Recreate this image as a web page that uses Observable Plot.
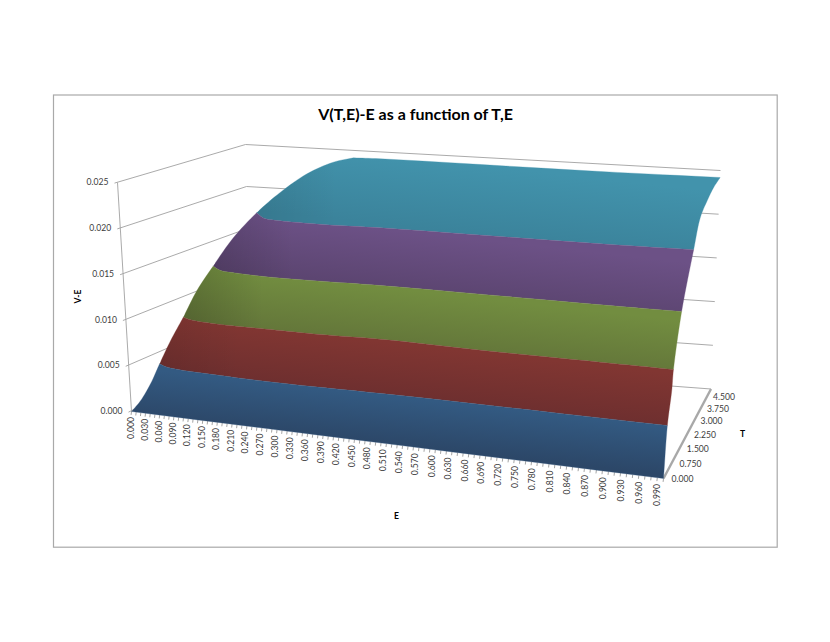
<!doctype html>
<html><head><meta charset="utf-8">
<script src="https://cdn.jsdelivr.net/npm/d3@7"></script>
<script src="https://cdn.jsdelivr.net/npm/@observablehq/plot@0.6"></script>
<style>html,body{margin:0;padding:0;background:#fff}svg{display:block}</style>
</head><body><div id="chart"></div>
<script>
// Tick labels
const eTicks=[0,.03,.06,.09,.12,.15,.18,.21,.24,.27,.30,.33,.36,.39,.42,.45,.48,.51,.54,.57,.60,.63,.66,.69,.72,.75,.78,.81,.84,.87,.90,.93,.96,.99];
const tTicks=[0,.75,1.5,2.25,3,3.75,4.5];
const vTicks=[0,.005,.01,.015,.02,.025];
const bandLevels=[0,.005,.01,.015,.02,.0242];

// Fold (left silhouette) of the surface: E, T, V
const foldE=[0,.004,.025,.045,.064,.085,.094,.116,.127,.157,.177,.191,.222,.254];
const foldT=[0,.247,.295,.320,.432,.562,.926,1.166,1.751,2.138,2.738,3.597,4.158,4.438];
const foldV=[0,.0008,.00275,.005,.0075,.01,.0125,.015,.0175,.02,.02175,.023,.023875,.0242];

// Right edge of the surface at E = 0.990: T, V
const edgeT=[0,.243,.553,.661,1.242,2.155,2.68,3.28,3.88,4.5];
const edgeV=[0,.005,.008,.01,.015,.02,.02266,.02352,.02406,.0242];

// Iso-value lines: E and T at which V reaches each level
const iso0E=[0,.99],                                   iso0T=[0,0];
const iso1E=[.045,.070,.187,.320,.532,.99],            iso1T=[.320,.177,.073,.061,.159,.243];
const iso2E=[.085,.107,.174,.273,.369,.479,.668,.870,.99], iso2T=[.562,.453,.375,.413,.448,.558,.566,.628,.661];
const iso3E=[.116,.146,.184,.254,.350,.462,.855,.99],  iso3T=[1.166,.925,.860,.825,.899,1.012,1.176,1.242];
const iso4E=[.157,.193,.225,.287,.339,.428,.832,.99],  iso4T=[2.138,1.766,1.684,1.684,1.711,1.823,2.033,2.155];
const iso5E=[.254,.312,.768,.99],                      iso5T=[4.438,4.489,4.450,4.5];
const isoE=[iso0E,iso1E,iso2E,iso3E,iso4E,iso5E], isoT=[iso0T,iso1T,iso2T,iso3T,iso4T,iso5T];

// Band colours (top of band, bottom of band)
const bandTop=["#335a82","#813632","#728d40","#6c5186","#4293ac"];
const bandBot=["#2c4768","#6e2f2f","#64773a","#5c4571","#3b839b"];
const shadeAlpha=[0,.08,.16,.14,.08];

// Oblique view: eight corners of the box on the page
const cA=[131,411],cB=[663,478],cC=[710.5,388.5],cD=[250,354],cA1=[117,182],cB1=[667,240],cC1=[720,170],cD1=[245,144];
const Emax=.99,Tmax=4.5,Vmax=.025;
const mix=(p,q,s)=>[p[0]+(q[0]-p[0])*s,p[1]+(q[1]-p[1])*s];
const warp=(s,k)=>s/(s+k*(1-s));
const eFrac=E=>warp(E/Emax,1.155), tFrac=T=>warp(T/Tmax,.85);
function view(E,T,V){
  const e=eFrac(E),t=tFrac(T),v=V/Vmax;
  return mix(mix(mix(cA,cA1,v),mix(cB,cB1,v),e),mix(mix(cD,cD1,v),mix(cC,cC1,v),e),t);
}

// Centripetal Catmull-Rom path through projected knots (drawing only)
function smoothPath(knots,lev,n=8){
  const out=[];
  const P=i=>knots[Math.max(0,Math.min(knots.length-1,i))];
  const L=i=>lev[Math.max(0,Math.min(lev.length-1,i))];
  for(let i=0;i<knots.length-1;i++){
    const p0=P(i-1),p1=P(i),p2=P(i+1),p3=P(i+2);
    const d=(a,b)=>Math.sqrt(Math.hypot(a[0]-b[0],a[1]-b[1]))||1e-3;
    const t0=0,t1=t0+d(p0,p1),t2=t1+d(p1,p2),t3=t2+d(p2,p3);
    for(let j=(i?1:0);j<=n;j++){
      const t=t1+(t2-t1)*j/n;
      const lin=(a,b,ta,tb)=>mix(a,b,(t-ta)/(tb-ta));
      const A1=p0===p1?p1:lin(p0,p1,t0,t1),A2=lin(p1,p2,t1,t2),A3=p2===p3?p2:lin(p2,p3,t2,t3);
      const B1=p0===p1?A2:lin(A1,A2,t0,t2),B2=p2===p3?A2:lin(A2,A3,t1,t3);
      const C=lin(B1,B2,t1,t2);
      out.push({x:C[0],y:C[1],V:L(i)+(L(i+1)-L(i))*j/n});
    }
  }
  return out;
}
const foldPath=smoothPath(foldE.map((E,i)=>view(E,foldT[i],foldV[i])),foldV);
const edgePath=smoothPath(edgeT.map((T,i)=>view(Emax,T,edgeV[i])),edgeV);
const isoPaths=isoE.map((Es,k)=>smoothPath(Es.map((E,i)=>view(E,isoT[k][i],bandLevels[k])),Es.map(()=>bandLevels[k])));

// Band polygons
const bands=d3.range(5).map(k=>{
  const lo=bandLevels[k],hi=bandLevels[k+1];
  const inside=p=>p.V>lo&&p.V<hi;
  return [...isoPaths[k],...edgePath.filter(inside),...isoPaths[k+1].slice().reverse(),...foldPath.filter(inside).reverse()];
});

// Gradients for the shaded surface
function defs(){
  const d=d3.create("svg:defs");
  bands.forEach((pts,k)=>{
    const upperMid=view(.5,isoT[k+1][Math.floor(isoT[k+1].length/2)],bandLevels[k+1]);
    const lowerMid=view(.5,isoT[k][Math.floor(isoT[k].length/2)],bandLevels[k]);
    const h=lowerMid[1]-upperMid[1], s=.11;
    const g=d.append("linearGradient").attr("id","band"+k).attr("gradientUnits","userSpaceOnUse")
      .attr("x1",upperMid[0]).attr("y1",upperMid[1]).attr("x2",upperMid[0]-s*h).attr("y2",upperMid[1]+h);
    g.append("stop").attr("offset",0).attr("stop-color",bandTop[k]);
    g.append("stop").attr("offset",1).attr("stop-color",bandBot[k]);
    const x0=d3.min(pts,p=>p.x);
    const o=d.append("linearGradient").attr("id","shade"+k).attr("gradientUnits","userSpaceOnUse")
      .attr("x1",x0).attr("y1",0).attr("x2",x0+80).attr("y2",0);
    o.append("stop").attr("offset",0).attr("stop-color","#000").attr("stop-opacity",shadeAlpha[k]);
    o.append("stop").attr("offset",1).attr("stop-color","#000").attr("stop-opacity",0);
  });
  return d.node();
}

const font="Lato";
const combE=d3.range(0,100).map(i=>i/100);
const ink="#3c3c3c", rule="#a0a0a0";
const vPoint=(V,at)=>at==="A"?view(0,0,V):at==="D"?view(0,Tmax,V):view(Emax,Tmax,V);

const chart=Plot.plot({
  width:830,height:642,margin:0,
  x:{domain:[0,830],range:[0,830],axis:null},
  y:{domain:[0,642],range:[0,642],axis:null},
  style:{background:"transparent",fontFamily:font},
  marks:[
    defs,
    Plot.frame({insetLeft:53,insetTop:94.5,insetRight:53.3,insetBottom:95.3,stroke:"#a9a9a9",strokeWidth:1.2}),
    // wall lines
    Plot.link(vTicks,{x1:V=>vPoint(V,"A")[0]-3,y1:V=>vPoint(V,"A")[1]+.6,x2:V=>vPoint(V,"D")[0],y2:V=>vPoint(V,"D")[1],stroke:rule,strokeWidth:.9}),
    Plot.link(vTicks,{x1:V=>vPoint(V,"D")[0],y1:V=>vPoint(V,"D")[1],x2:V=>vPoint(V,"C")[0],y2:V=>vPoint(V,"C")[1],stroke:rule,strokeWidth:.9}),
    Plot.link([0],{x1:()=>cA[0],y1:()=>cA[1],x2:()=>cA1[0],y2:()=>cA1[1],stroke:rule,strokeWidth:.9}),
    // E comb and T axis
    Plot.link(combE,{x1:E=>view(E,0,0)[0],y1:E=>view(E,0,0)[1],x2:E=>view(E,0,0)[0]-.4,y2:E=>view(E,0,0)[1]+3.4,stroke:"#9a9a9a",strokeWidth:.9}),
    Plot.link([0],{x1:()=>cB[0],y1:()=>cB[1],x2:()=>cC[0],y2:()=>cC[1],stroke:"#a8a8a8",strokeWidth:2.4}),
    // surface, top band first
    ...d3.range(4,-1,-1).flatMap(k=>[
      Plot.line(bands[k],{x:"x",y:"y",fill:`url(#band${k})`,stroke:bandTop[k],strokeWidth:.3}),
      Plot.line(bands[k],{x:"x",y:"y",fill:`url(#shade${k})`,stroke:"none"})
    ]),
    // tick labels
    Plot.text(vTicks,{x:V=>vPoint(V,"A")[0]-9,y:V=>vPoint(V,"A")[1],text:V=>V.toFixed(3),textAnchor:"end",fontSize:8.6,fill:ink}),
    Plot.text(eTicks,{x:E=>view(E,0,0)[0]-6*eFrac(E),y:E=>view(E,0,0)[1]+5.6,text:E=>E.toFixed(3),rotate:-90,textAnchor:"end",fontSize:8.6,fill:ink}),
    Plot.text(tTicks,{x:T=>view(Emax,T,0)[0]+8-6*tFrac(T),y:T=>view(Emax,T,0)[1]+1+7*tFrac(T),text:T=>T.toFixed(3),textAnchor:"start",fontSize:8.6,fill:ink}),
    // titles
    Plot.text(["V(T,E)-E as a function of T,E"],{frameAnchor:"top",dy:114,text:d=>d,fontSize:16,fontWeight:700,fill:"#000",lineAnchor:"middle"}),
    Plot.text(["V-E"],{frameAnchor:"top-left",dx:78,dy:296,text:d=>d,rotate:-90,fontSize:8.6,fontWeight:700,fill:"#000",textAnchor:"middle",lineAnchor:"middle"}),
    Plot.text(["E"],{frameAnchor:"top-left",dx:396,dy:516,text:d=>d,fontSize:8.6,fontWeight:700,fill:"#000",textAnchor:"middle",lineAnchor:"middle"}),
    Plot.text(["T"],{frameAnchor:"top-left",dx:742,dy:434,text:d=>d,fontSize:8.6,fontWeight:700,fill:"#000",textAnchor:"middle",lineAnchor:"middle"})
  ]
});
document.getElementById("chart").append(chart);
</script></body></html>
